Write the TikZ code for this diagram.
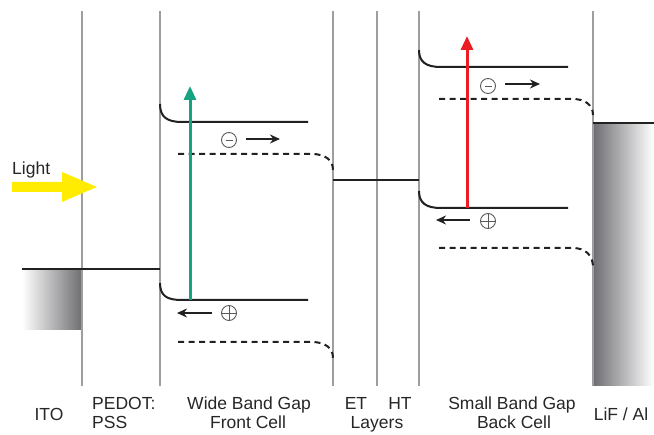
\documentclass[tikz,border=0pt]{standalone}
\usepackage{fontspec}
\setmainfont{Liberation Sans}
\usetikzlibrary{arrows.meta}
\definecolor{vline}{gray}{0.62}
\definecolor{band}{gray}{0.13}
\definecolor{greenarr}{RGB}{22,163,130}
\definecolor{redarr}{RGB}{236,28,36}
\definecolor{lightyel}{RGB}{255,236,0}
\definecolor{blockgray}{RGB}{110,110,114}
\begin{document}
\begin{tikzpicture}[x=1pt,y=-1pt,
  layerline/.style={draw=vline,line width=1.4pt},
  bandline/.style={draw=band,line width=2pt},
  dashband/.style={draw=band,line width=2pt,dash pattern=on 6pt off 4.5pt},
  photon/.style={line width=3pt,-{Triangle[length=14pt,width=12pt]}},
  chargearr/.style={draw=band,line width=2pt,-{Stealth[length=10pt,width=9pt]}},
  chargecirc/.style={circle,draw=gray!70!black,line width=0.9pt,minimum size=15pt,inner sep=0pt},
  lbl/.style={font=\fontsize{17.5}{19.5}\selectfont,text=black!85,align=center,inner sep=0pt}]
\useasboundingbox (0,0) rectangle (654,435);
% electrode blocks
\shade[left color=white,right color=blockgray] (22,269) rectangle (82,330);
\shade[left color=blockgray,right color=white] (593,123) rectangle (654,386);
% layer boundaries
\foreach \x/\n in {82/a,160/b,333/c,377/d,419/e,593/f}{
  \coordinate (top\n) at (\x,11);
  \coordinate (bot\n) at (\x,386);
  \draw[layerline] (top\n) -- (bot\n);
}
% ITO / PEDOT level
\draw[bandline] (22,269) -- (160,269);
% LiF/Al level
\draw[bandline] (593,123) -- (654,123);
% ET/HT level
\draw[bandline] (333,180) -- (419,180);
% front cell bands
\draw[bandline] (160,104) .. controls (160,117) and (167,122) .. (182,122) -- (308,122);
\draw[bandline] (160,283) .. controls (160,296) and (167,300) .. (182,300) -- (308,300);
\draw[dashband] (178,154) -- (312,154) .. controls (325,154) and (333,160) .. (333,170);
\draw[dashband] (178,342) -- (312,342) .. controls (325,342) and (333,348) .. (333,358);
% back cell bands
\draw[bandline] (419,50) .. controls (419,62) and (426,67) .. (441,67) -- (568,67);
\draw[bandline] (419,191) .. controls (419,203) and (426,208) .. (441,208) -- (568,208);
\draw[dashband] (439,99) -- (573,99) .. controls (585,99) and (593,105) .. (593,115);
\draw[dashband] (439,248) -- (573,248) .. controls (585,248) and (593,255) .. (593,267);
% photon excitation arrows
\coordinate (gs) at (190,300); \coordinate (ge) at (190,86);
\draw[photon,greenarr] (gs) -- (ge);
\coordinate (rs) at (467,208); \coordinate (re) at (467,36);
\draw[photon,redarr] (rs) -- (re);
% charges front cell
\node[chargecirc] (m1) at (229,140) {};
\draw[gray!70!black,line width=0.9pt] ([xshift=-3.5pt]m1.center) -- ([xshift=3.5pt]m1.center);
\coordinate (m1a) at (246,139); \coordinate (m1b) at (280,139);
\draw[chargearr] (m1a) -- (m1b);
\node[chargecirc] (p1) at (229,313) {};
\draw[gray!70!black,line width=0.9pt] (p1.west) -- (p1.east) (p1.north) -- (p1.south);
\coordinate (p1a) at (212,313); \coordinate (p1b) at (177,313);
\draw[chargearr] (p1a) -- (p1b);
% charges back cell
\node[chargecirc] (m2) at (488,86) {};
\draw[gray!70!black,line width=0.9pt] ([xshift=-3.5pt]m2.center) -- ([xshift=3.5pt]m2.center);
\coordinate (m2a) at (505,84); \coordinate (m2b) at (540,84);
\draw[chargearr] (m2a) -- (m2b);
\node[chargecirc] (p2) at (488,221) {};
\draw[gray!70!black,line width=0.9pt] (p2.west) -- (p2.east) (p2.north) -- (p2.south);
\coordinate (p2a) at (470,220); \coordinate (p2b) at (436,220);
\draw[chargearr] (p2a) -- (p2b);
% light
\fill[lightyel] (12,182) -- (62,182) -- (62,172) -- (97,187) -- (62,202) -- (62,192) -- (12,192) -- cycle;
\node[lbl,anchor=base west] (light) at (12,175) {Light};
% labels
\node[lbl,anchor=base] (ito) at (49,421) {ITO};
\node[lbl,anchor=base west] (pedot) at (92,410) {PEDOT:};
\node[lbl,anchor=base west] (pss) at (92,429) {PSS};
\node[lbl,anchor=base] (wide1) at (249,410) {Wide Band Gap};
\node[lbl,anchor=base] (wide2) at (248,429) {Front Cell};
\node[lbl,anchor=base] (et) at (356,410) {ET};
\node[lbl,anchor=base] (ht) at (400,410) {HT};
\node[lbl,anchor=base] (layers) at (377,429) {Layers};
\node[lbl,anchor=base] (small1) at (512,410) {Small Band Gap};
\node[lbl,anchor=base] (small2) at (514,429) {Back Cell};
\node[lbl,anchor=base] (lif) at (621,421) {LiF / Al};
\end{tikzpicture}
\end{document}
